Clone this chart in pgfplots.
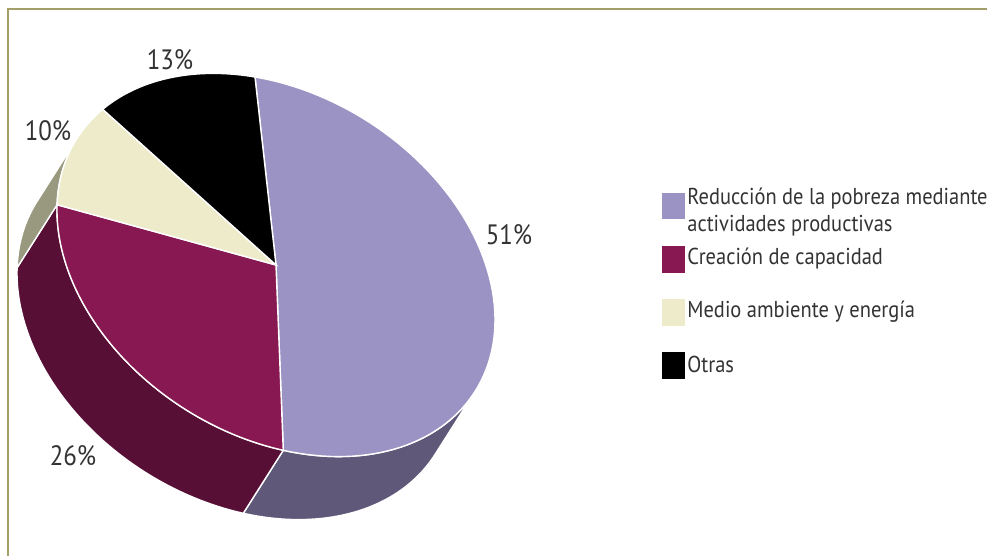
\documentclass[border=0pt]{standalone}
\usepackage{fontspec}
\setmainfont{PT Sans}
\newfontfamily\legfont{PT Sans}[FakeStretch=0.89]
\usepackage{pgfplots}
\pgfplotsset{compat=1.18}

\definecolor{lav}{HTML}{9A93C3}
\definecolor{lavside}{HTML}{5F5878}
\definecolor{mar}{HTML}{871852}
\definecolor{marside}{HTML}{570F36}
\definecolor{crm}{HTML}{EDEBC9}
\definecolor{crmside}{HTML}{99997F}
\definecolor{frame}{HTML}{A39E6A}
\definecolor{txt}{HTML}{333333}

% shares (percent)
\def\vA{51} % Reduccion de la pobreza
\def\vB{26} % Creacion de capacidad
\def\vC{10} % Medio ambiente
\def\vD{13} % Otras
\pgfmathsetmacro\aA{0}
\pgfmathsetmacro\aB{\aA+3.6*\vA}
\pgfmathsetmacro\aC{\aB+3.6*\vB}
\pgfmathsetmacro\aD{\aC+3.6*\vC}
\pgfmathsetmacro\aE{\aD+3.6*\vD}
% silhouette angles of the tilted disc
\def\sL{120.2}
\def\sR{300.2}

% top face sector
\newcommand\slice[3]{%
  \addplot[fill=#1, draw=white, line width=0.7pt, domain=#2:#3, samples=90, variable=\t]
    ({px(\t)},{py(\t)}) -- (axis cs:276,265) -- cycle;
}
% side band between top arc and shifted arc
\newcommand\side[3]{%
  \addplot[fill=#1, draw=white, line width=0.7pt, variable=\s,
    samples at={0,1,...,50,50.001,51,52,...,100}]
    ({\s<=50.0005 ? px(#2+\s/50*(#3-#2)) : px(#3-(\s-50)/50*(#3-#2))-40},
     {\s<=50.0005 ? py(#2+\s/50*(#3-#2)) : py(#3-(\s-50)/50*(#3-#2))+63}) -- cycle;
}

\begin{document}
\begin{tikzpicture}
\begin{axis}[
  scale only axis, width=493.5pt, height=278pt,
  xmin=0, xmax=987, ymin=0, ymax=556, y dir=reverse,
  hide axis, clip=false,
  declare function={px(\t)=276-21*cos(\t)+218*sin(\t);
                    py(\t)=265-188*cos(\t)+37*sin(\t);},
]
\draw[frame, line width=1pt] (8,556) -- (8,9) -- (987,9);

\side{lavside}{\sL}{\aB}
\side{marside}{\aB}{\aC}
\side{crmside}{\aC}{\sR}

\slice{lav}{\aA}{\aB}
\slice{mar}{\aB}{\aC}
\slice{crm}{\aC}{\aD}
\slice{black}{\aD}{\aE}

\begin{scope}[every node/.style={text=txt, font=\legfont\fontsize{14}{16}\selectfont}]
\node at (509,235) {51\%};
\node at (73,456) {26\%};
\node at (48,131) {10\%};
\node at (170,60) {13\%};
\end{scope}

\begin{scope}[every node/.style={text=txt, anchor=base west, inner sep=0pt,
    font=\legfont\fontsize{11.5}{13}\selectfont}]
\fill[lav] (662,193) rectangle (685,219);
\node at (687,205) {Reducción de la pobreza mediante};
\node at (687,232) {actividades productivas};
\fill[mar] (662,246) rectangle (685,273);
\node at (687,264) {Creación de capacidad};
\fill[crm] (662,299) rectangle (685,326);
\node at (687,318) {Medio ambiente y energía};
\fill[black] (662,352) rectangle (685,379);
\node at (687,372) {Otras};
\end{scope}
\end{axis}
\pgfresetboundingbox
\path (0,0) rectangle (493.5pt,278pt);
\end{tikzpicture}
\end{document}
